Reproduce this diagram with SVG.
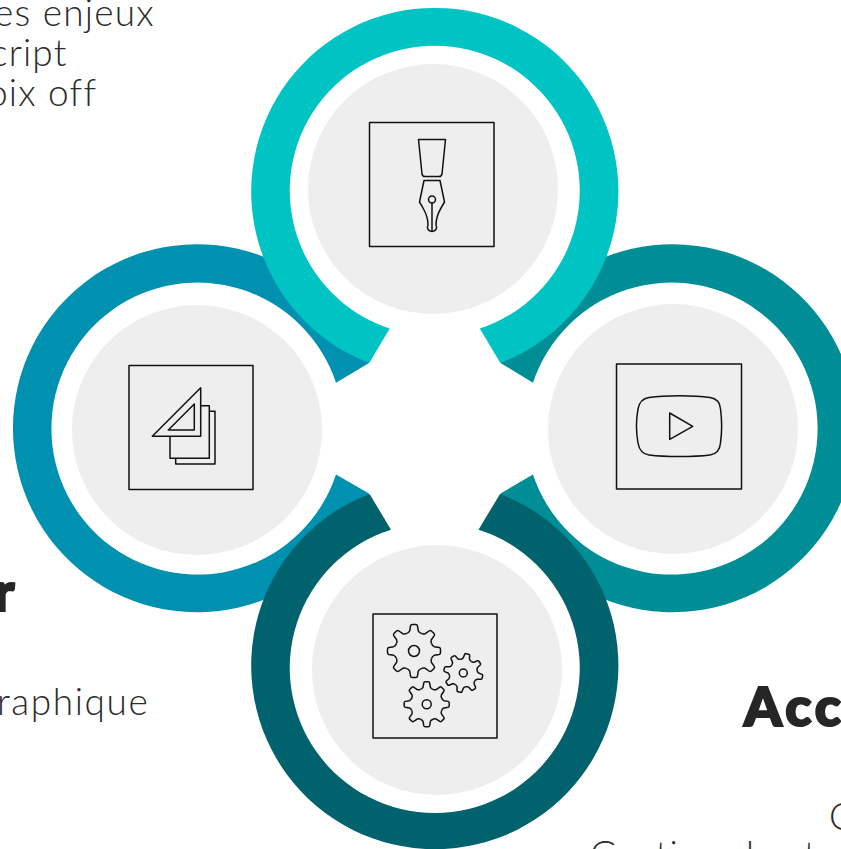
<svg xmlns="http://www.w3.org/2000/svg" xmlns:xlink="http://www.w3.org/1999/xlink" width="841" height="849" viewBox="0 0 841 849">
<style>
.t{font-family:"Lato","Liberation Sans",sans-serif;font-weight:300;font-size:37px;fill:#2b2b2b;letter-spacing:1.2px}
.h{font-family:"Lato","Liberation Sans",sans-serif;font-weight:900;font-size:54px;fill:#262626;stroke:#262626;stroke-width:2.2px;letter-spacing:4px}
.disc{fill:#eeeeee}
.ic{fill:none;stroke:#111111;stroke-width:1.5;stroke-linejoin:round;vector-effect:non-scaling-stroke}
</style>
<defs>
<path id="tooth" class="ic" d="M-27.6 -66.500Q-20 -69 -16.200 -76.300L-13 -95Q-12 -100 -7 -100H7Q12 -100 13 -95L16.200 -76.300Q20 -69 27.600 -66.500"/>
<g id="gear">
<use xlink:href="#tooth" href="#tooth"/>
<use xlink:href="#tooth" href="#tooth" transform="rotate(45)"/>
<use xlink:href="#tooth" href="#tooth" transform="rotate(90)"/>
<use xlink:href="#tooth" href="#tooth" transform="rotate(135)"/>
<use xlink:href="#tooth" href="#tooth" transform="rotate(180)"/>
<use xlink:href="#tooth" href="#tooth" transform="rotate(225)"/>
<use xlink:href="#tooth" href="#tooth" transform="rotate(270)"/>
<use xlink:href="#tooth" href="#tooth" transform="rotate(315)"/>
</g>
</defs>
<rect width="841" height="849" fill="#ffffff"/>
<g id="texts">
<text class="t" x="-6" y="26">es enjeux</text>
<text class="t" x="-10" y="66">cript</text>
<text class="t" x="-13" y="106">oix off</text>
<text class="h" x="-6" y="611">r</text>
<text class="t" x="-3" y="715" style="letter-spacing:1.6px">raphique</text>
<text class="h" x="744" y="726">Acc</text>
<text class="t" x="829" y="830">C</text>
<text class="t" x="590" y="868">Gestion des t</text>
</g>
<g id="node-left">
<path fill="#0090B0" d="M369 363A184 184 0 1 0 369 493.5L336 474.5A146 146 0 1 1 336 382.7Z"/>
<circle class="disc" cx="197" cy="430" r="125"/>
<rect class="ic" x="129" y="365.500" width="124" height="124"/>
<path class="ic" d="M152.300 436.300L200.700 387.700V436.300Z M168.300 430L194.300 404V430Z M200.700 405.700H209.300V458.300H170V436.300 M209.300 411.300H215V464H175.700V458.300"/>
</g>
<g id="node-right">
<path fill="#008E96" d="M500.500 363A184 184 0 1 1 500.500 493.500L533 474.500A146 146 0 1 0 533 382.700Z"/>
<circle class="disc" cx="673" cy="429" r="125"/>
<rect class="ic" x="616.500" y="364" width="125" height="125"/>
<path class="ic" d="M649 397.500C665 395 694 395 710 397.500C717 398.500 720 403 720.500 409C722 420 722 432 720.500 443C720 449 717 454 710 455C694 457 665 457 649 455C642 454 639 449 638 443C636 432 636 420 638 409C639 403 642 398.500 649 397.500Z"/>
<path class="ic" d="M669.700 413L692.700 426.300L669.700 439.300Z"/>
</g>
<g id="node-top">
<path fill="#00C4C4" d="M369.300 363A183.600 183.600 0 1 1 500.300 363L479.800 328.500A145 145 0 1 0 389.700 328.500Z"/>
<circle class="disc" cx="433" cy="189" r="125"/>
<rect class="ic" x="369.500" y="122.500" width="124.500" height="124"/>
<path class="ic" d="M418.500 139.500H445.500L442 174Q441.500 176.500 439 176.500H425Q422.500 176.500 422 174Z"/>
<path class="ic" d="M424 180.500H440L444.500 202L441 208C437 215 436 221 436 225C437 227 437 231 432 231.500C427 231 427 227 428 225C428 221 427 215 423 208L419.500 202Z"/>
<circle class="ic" cx="432" cy="199.500" r="3.500"/>
<path class="ic" d="M432 203V231"/>
</g>
<g id="node-bottom">
<path fill="#00626C" d="M369.600 494A183.600 183.600 0 1 0 500 494L478.500 529.700A145 145 0 1 1 391 529.700Z"/>
<circle class="disc" cx="437" cy="670" r="125"/>
<rect class="ic" x="373" y="614" width="124" height="124"/>
<circle class="ic" cx="414" cy="651" r="5.500"/>
<circle class="ic" cx="463.300" cy="673" r="4"/>
<circle class="ic" cx="426.700" cy="704.300" r="4.500"/>
<use xlink:href="#gear" href="#gear" transform="translate(414 651) scale(.265)"/>
<use xlink:href="#gear" href="#gear" transform="translate(463.300 673) rotate(12) scale(.195)"/>
<use xlink:href="#gear" href="#gear" transform="translate(426.700 704.300) scale(.225)"/>
</g>
</svg>
